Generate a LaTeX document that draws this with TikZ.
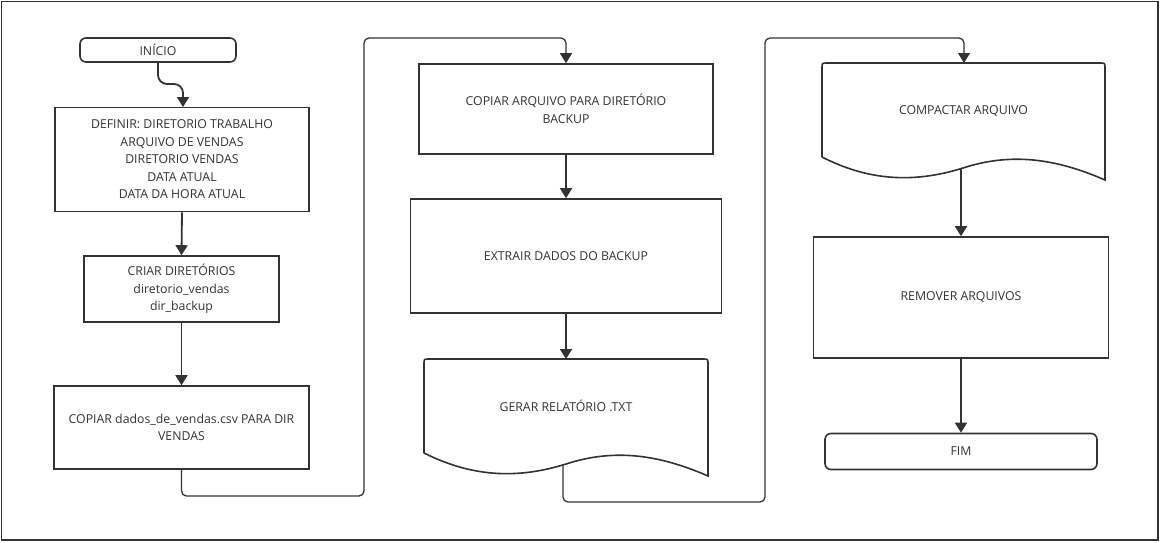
\documentclass[tikz,border=0pt]{standalone}
\usepackage{fontspec}
\setmainfont{Open Sans}
\usetikzlibrary{arrows.meta}
\definecolor{ink}{HTML}{333333}
\begin{document}
\begin{tikzpicture}[x=1pt,y=-1pt,
  box/.style={draw=ink,line width=1.6pt,rectangle,inner sep=0pt,align=center,text=ink,font=\fontsize{12.3}{17.5}\selectfont},
  term/.style={box,rounded corners=6pt},
  docarea/.style={rectangle,inner sep=0pt,align=center,text=ink,font=\fontsize{12.3}{17.5}\selectfont},
  flow/.style={draw=ink,line width=1.8pt,-{Triangle[width=12pt,length=10pt]}},
  link/.style={draw=ink,line width=1.3pt,rounded corners=5pt,-{Triangle[width=12pt,length=10pt]}},
  docline/.style={draw=ink,line width=1.6pt}]
\useasboundingbox (0,0) rectangle (1160,542);
\draw[ink,line width=1.5pt] (1.5,1.5) rectangle (1158,540);

% column 1
\node[term,minimum width=156pt,minimum height=24pt] (inicio) at (158,50) {INÍCIO};
\node[box,minimum width=254pt,minimum height=104pt] (definir) at (182,159.5) {DEFINIR: DIRETORIO TRABALHO\\ARQUIVO DE VENDAS\\DIRETORIO VENDAS\\DATA ATUAL\\DATA DA HORA ATUAL};
\node[box,minimum width=195pt,minimum height=66pt] (criar) at (181.5,289) {CRIAR DIRETÓRIOS\\diretorio\_vendas\\dir\_backup};
\node[box,minimum width=255pt,minimum height=83pt] (copiar) at (181.5,427.5) {COPIAR dados\_de\_vendas.csv PARA DIR\\VENDAS};

% column 2
\node[box,minimum width=294pt,minimum height=90pt] (copbak) at (566,109) {COPIAR ARQUIVO PARA DIRETÓRIO\\BACKUP};
\node[box,minimum width=311pt,minimum height=114pt] (extrair) at (566,256) {EXTRAIR DADOS DO BACKUP};
\node[docarea,minimum width=284pt,minimum height=94pt] (gerar) at (566,406) {GERAR RELATÓRIO .TXT};
\draw[docline] (424,453) -- (424,364) .. controls (424,359) .. (429,359) -- (703,359) .. controls (708,359) .. (708,364) -- (708,476)
  .. controls (660,455) and (615,448) .. (566,464) .. controls (515,480) and (470,476) .. (424,453);
\coordinate (gerarout) at (563,465);

% column 3
\node[docarea,minimum width=283pt,minimum height=94pt] (compactar) at (963.5,111) {COMPACTAR ARQUIVO};
\draw[docline] (822,157) -- (822,68) .. controls (822,63) .. (827,63) -- (1100,63) .. controls (1105,63) .. (1105,68) -- (1105,180)
  .. controls (1057,159) and (1012,152) .. (963,168) .. controls (912,184) and (867,180) .. (822,157);
\coordinate (compout) at (961,169);
\node[box,minimum width=295pt,minimum height=121pt] (remover) at (961,297.5) {REMOVER ARQUIVOS};
\node[term,minimum width=272pt,minimum height=36pt] (fim) at (961,451.5) {FIM};

% connectors
\draw[flow,rounded corners=9pt] (inicio.south) |- (183,84) -- (183,107);
\draw[flow] (definir.south) -- (criar.north);
\draw[flow] (criar.south) -- (copiar.north);
\draw[link] (copiar.south) |- (364,496) |- (566,38) -- (copbak.north);
\draw[flow] (copbak.south) -- (extrair.north);
\draw[flow] (extrair.south) -- (566,359);
\draw[link] (gerarout) |- (765,502) |- (964,38) -- (964,63);
\draw[flow] (compout) -- (remover.north);
\draw[flow] (remover.south) -- (fim.north);
\end{tikzpicture}
\end{document}
